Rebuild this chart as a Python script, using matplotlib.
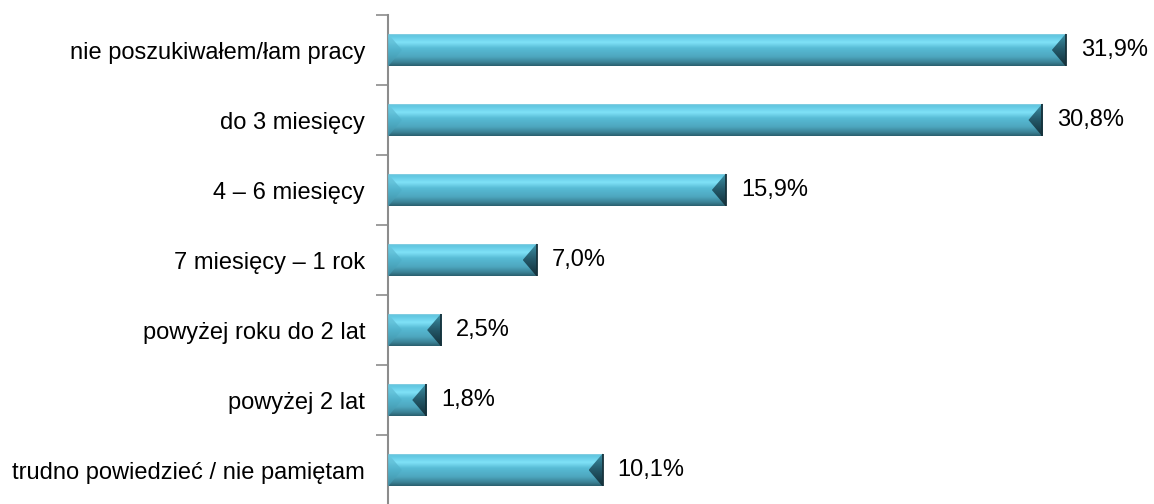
import numpy as np
import matplotlib.pyplot as plt
from matplotlib.colors import LinearSegmentedColormap
from matplotlib.patches import Polygon

plt.rcParams['font.family'] = ['Liberation Sans', 'DejaVu Sans']

# Data
categories = [
    "nie poszukiwałem/łam pracy",
    "do 3 miesięcy",
    "4 – 6 miesięcy",
    "7 miesięcy – 1 rok",
    "powyżej roku do 2 lat",
    "powyżej 2 lat",
    "trudno powiedzieć / nie pamiętam",
]
values = [31.9, 30.8, 15.9, 7.0, 2.5, 1.8, 10.1]
labels = ["31,9%", "30,8%", "15,9%", "7,0%", "2,5%", "1,8%", "10,1%"]

W, H, DPI = 1154, 504, 100
fig = plt.figure(figsize=(W / DPI, H / DPI), dpi=DPI)
ax_left, ax_right = 388, 1150
ax_top, ax_bot = 15, 505
ax = fig.add_axes([ax_left / W, (H - ax_bot) / H,
                   (ax_right - ax_left) / W, (ax_bot - ax_top) / H])

xmax = 35.86
ax.set_xlim(0, xmax)
ax.set_ylim(len(categories) - 0.5, -0.5)

# pixels per data unit, used for the fixed-size bevels
px_x = (ax_right - ax_left) / xmax
px_y = (ax_bot - ax_top) / len(categories)

bar_h = 0.47
body = LinearSegmentedColormap.from_list("body", [
    (0.0, "#bcdce4"), (0.06, "#5ec4df"), (0.28, "#80e2f8"),
    (0.45, "#58bcd6"), (0.72, "#4ea7bf"), (0.9, "#3a8094"), (1.0, "#2a5f6e")])
right_cap = LinearSegmentedColormap.from_list("rc", ["#3d93a8", "#24596a", "#132f38"])
left_cap = LinearSegmentedColormap.from_list("lc", ["#72cde4", "#52b3cc", "#3f90a6"])

grad_v = np.linspace(0, 1, 64).reshape(-1, 1)

bars = ax.barh(range(len(values)), values, height=bar_h, color="none", edgecolor="none")
bev = 14 / px_x
for i, (rect, v) in enumerate(zip(bars, values)):
    y0, y1 = i - bar_h / 2, i + bar_h / 2
    im = ax.imshow(grad_v, cmap=body, extent=(0, v, y1, y0), aspect="auto",
                   interpolation="bicubic", zorder=2)
    im.set_clip_path(rect)
    b = min(bev, v / 2)
    # right bevel: triangle pointing inwards
    rp = Polygon([(v, y0), (v, y1), (v - b, i)],
                 closed=True, facecolor="none", edgecolor="none")
    ax.add_patch(rp)
    im_r = ax.imshow(grad_v, cmap=right_cap, extent=(v - b, v, y1, y0),
                     aspect="auto", interpolation="bicubic", zorder=3)
    im_r.set_clip_path(rp)
    ax.plot([v, v], [y0, y1], color="#16313a", lw=1.3, zorder=4,
            solid_capstyle="butt")
    # left bevel
    lp = Polygon([(0, y0), (0, y1), (b, i)],
                 closed=True, facecolor="none", edgecolor="none")
    ax.add_patch(lp)
    im_l = ax.imshow(grad_v, cmap=left_cap, extent=(0, b, y1, y0),
                     aspect="auto", interpolation="bicubic", zorder=3, alpha=0.85)
    im_l.set_clip_path(lp)
    ax.text(v + 15 / px_x, i, labels[i], va="center", ha="left",
            fontsize=17, color="#000000")

ax.set_xlim(0, xmax)
ax.set_ylim(len(categories) - 0.5, -0.5)

# category labels sit between the boundary ticks
ax.set_yticks(range(len(categories)))
ax.set_yticklabels(categories, fontsize=17)
ax.tick_params(axis="y", which="major", length=0, pad=16.5)
ax.set_yticks(np.arange(-0.5, len(categories), 1.0), minor=True)
ax.tick_params(axis="y", which="minor", length=9, width=1.2, color="#8c8c8c")
ax.set_xticks([])
for s in ["top", "right", "bottom"]:
    ax.spines[s].set_visible(False)
ax.spines["left"].set_color("#8c8c8c")
ax.spines["left"].set_linewidth(1.5)

fig.savefig("out.png", dpi=DPI)
